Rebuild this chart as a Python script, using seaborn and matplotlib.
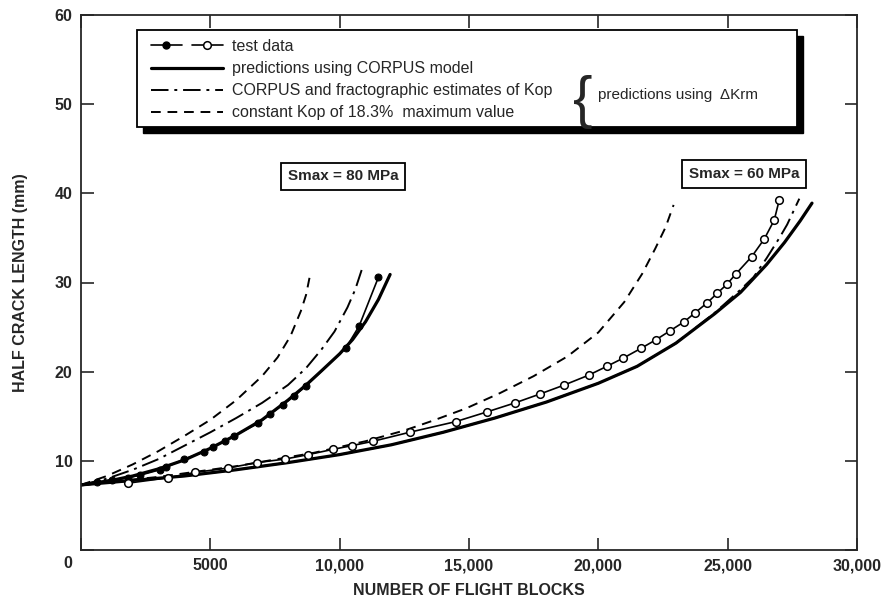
import numpy as np
import pandas as pd
import matplotlib
matplotlib.use("Agg")
import matplotlib.pyplot as plt
import seaborn as sns
from matplotlib.lines import Line2D
from matplotlib.patches import Rectangle
from matplotlib.legend_handler import HandlerTuple

# ---- data (flight blocks, half crack length in mm) ----
# Smax = 80 MPa
test80_x = [600, 1200, 1800, 2300, 3050, 3300, 4000, 4750, 5100, 5550, 5900,
            6850, 7300, 7800, 8250, 8700, 10250, 10750, 11500]
test80_y = [7.6, 7.9, 8.1, 8.4, 9.0, 9.3, 10.2, 11.0, 11.6, 12.2, 12.8,
            14.2, 15.2, 16.3, 17.3, 18.4, 22.7, 25.1, 30.6]

corpus80_x = [0, 1000, 2000, 3000, 4000, 5000, 6000, 7000, 8000, 8700, 9300,
              10000, 10500, 11000, 11500, 11950]
corpus80_y = [7.3, 7.7, 8.3, 9.1, 10.1, 11.4, 12.9, 14.6, 16.8, 18.5, 20.1,
              22.0, 23.6, 25.6, 28.1, 30.9]

fracto80_x = [0, 1000, 2000, 3000, 4000, 5000, 6000, 7000, 8000, 8700, 9300,
              9800, 10300, 10600, 10850]
fracto80_y = [7.3, 8.0, 9.0, 10.2, 11.7, 13.2, 14.8, 16.5, 18.5, 20.4, 22.5,
              24.5, 27.2, 29.2, 31.4]

const80_x = [0, 1000, 2000, 3000, 4000, 5000, 6000, 7000, 7600, 8100, 8500,
             8700, 8880]
const80_y = [7.3, 8.3, 9.6, 11.1, 12.8, 14.6, 16.8, 19.5, 21.6, 24.0, 26.8,
             28.6, 31.2]

# Smax = 60 MPa
test60_x = [1830, 3380, 4410, 5700, 6800, 7890, 8790, 9760, 10470, 11300,
            12700, 14490, 15710, 16780, 17750, 18680, 19620, 20330, 20950,
            21640, 22240, 22780, 23320, 23740, 24200, 24600, 24970, 25330,
            25930, 26420, 26800, 26990]
test60_y = [7.5, 8.1, 8.7, 9.2, 9.8, 10.2, 10.7, 11.3, 11.7, 12.2,
            13.2, 14.4, 15.5, 16.5, 17.5, 18.5, 19.6, 20.6, 21.5,
            22.6, 23.6, 24.6, 25.6, 26.6, 27.7, 28.8, 29.8, 31.0,
            32.9, 34.9, 37.0, 39.2]

corpus60_x = [0, 2000, 4000, 6000, 8000, 10000, 12000, 14000, 16000, 18000,
              20000, 21500, 23000, 24500, 25500, 26500, 27200, 27800, 28260]
corpus60_y = [7.3, 7.8, 8.3, 9.0, 9.8, 10.7, 11.8, 13.2, 14.8, 16.6,
              18.7, 20.6, 23.2, 26.5, 28.9, 32.0, 34.5, 36.9, 38.9]

fracto60_x = [0, 2000, 4000, 6000, 8000, 10000, 12000, 14000, 16000, 18000,
              20000, 21500, 23000, 24500, 25500, 26000, 26500, 27000, 27300,
              27770]
fracto60_y = [7.3, 7.8, 8.3, 9.0, 9.8, 10.7, 11.8, 13.2, 14.8, 16.6,
              18.7, 20.6, 23.2, 26.6, 29.2, 30.6, 32.7, 35.0, 36.5, 39.4]

const60_x = [0, 3000, 6000, 9000, 11000, 12500, 13600, 14900, 16200, 17500,
             18800, 20000, 21000, 21700, 22200, 22600, 22910]
const60_y = [7.3, 8.2, 9.4, 10.9, 12.2, 13.4, 14.5, 15.9, 17.6, 19.5,
             21.7, 24.4, 27.8, 31.0, 33.8, 36.2, 38.7]

x_ticks = [0, 5000, 10000, 15000, 20000, 25000, 30000]
x_ticklabels = ["", "5000", "10,000", "15,000", "20,000", "25,000", "30,000"]
y_ticks = [0, 10, 20, 30, 40, 50, 60]
y_ticklabels = ["", "10", "20", "30", "40", "50", "60"]

legend_labels = ["test data",
                 "predictions using CORPUS model",
                 "CORPUS and fractographic estimates of Kop",
                 "constant Kop of 18.3%  maximum value"]

sns.set_style("ticks")
plt.rcParams["font.family"] = ["Liberation Sans", "DejaVu Sans"]

DASHDOT = (0, (9, 3, 1.5, 3))
DASHED = (0, (5, 3.5))

fig = plt.figure(figsize=(8.85, 5.97), dpi=100)
ax = fig.add_axes([81 / 885, 47 / 597, 776 / 885, 535 / 597])

# predictions
for xs, ys in [(corpus80_x, corpus80_y), (corpus60_x, corpus60_y)]:
    sns.lineplot(x=xs, y=ys, ax=ax, color="black", lw=2.3, sort=False)
for xs, ys in [(fracto80_x, fracto80_y), (fracto60_x, fracto60_y)]:
    sns.lineplot(x=xs, y=ys, ax=ax, color="black", lw=1.4, sort=False,
                 linestyle=DASHDOT)
for xs, ys in [(const80_x, const80_y), (const60_x, const60_y)]:
    sns.lineplot(x=xs, y=ys, ax=ax, color="black", lw=1.4, sort=False,
                 linestyle=DASHED)

# test data
sns.lineplot(x=test80_x, y=test80_y, ax=ax, color="black", lw=1.2, sort=False,
             marker="o", markersize=5, markerfacecolor="black",
             markeredgecolor="black")
sns.lineplot(x=test60_x, y=test60_y, ax=ax, color="black", lw=1.2, sort=False,
             marker="o", markersize=5.5, markerfacecolor="white",
             markeredgecolor="black", markeredgewidth=1.1)

ax.set_xlim(0, 30000)
ax.set_ylim(0, 60)
ax.set_xticks(x_ticks)
ax.set_xticklabels(x_ticklabels)
ax.set_yticks(y_ticks)
ax.set_yticklabels(y_ticklabels)
ax.tick_params(direction="in", length=9, width=1.2, top=True, right=True,
               labelsize=11.5, pad=6)
for lab in ax.get_xticklabels() + ax.get_yticklabels():
    lab.set_fontweight("bold")
for sp in ax.spines.values():
    sp.set_linewidth(1.3)
    sp.set_visible(True)

ax.annotate("0", xy=(0, 0), xycoords="axes fraction", xytext=(-13, -13),
            textcoords="offset pixels", ha="center", va="center",
            fontsize=11.5, fontweight="bold")

ax.set_xlabel("NUMBER OF FLIGHT BLOCKS", fontsize=11.5, fontweight="bold",
              labelpad=7)
ax.set_ylabel("HALF CRACK LENGTH (mm)", fontsize=11.5, fontweight="bold",
              labelpad=19)

# stress labels
box = dict(boxstyle="square,pad=0.45", fc="white", ec="black", lw=1.3)
ax.text(10130, 41.9, "Smax = 80 MPa", fontsize=11, fontweight="bold",
        ha="center", va="center", bbox=box)
ax.text(25640, 42.2, "Smax = 60 MPa", fontsize=11, fontweight="bold",
        ha="center", va="center", bbox=box)

# legend frame with a drop shadow
bx0, by0, bw, bh = 0.0722, 0.791, 0.8505, 0.181
ax.add_patch(Rectangle((bx0 + 0.0077, by0 - 0.011), bw, bh,
                       transform=ax.transAxes, fc="black", ec="black",
                       zorder=5))
ax.add_patch(Rectangle((bx0, by0), bw, bh, transform=ax.transAxes,
                       fc="white", ec="black", lw=1.3, zorder=6))

h_fill = Line2D([], [], color="black", lw=1.2, marker="o", markersize=5,
                markerfacecolor="black")
h_open = Line2D([], [], color="black", lw=1.2, marker="o", markersize=5.5,
                markerfacecolor="white", markeredgewidth=1.1)
h_corpus = Line2D([], [], color="black", lw=2.3)
h_fracto = Line2D([], [], color="black", lw=1.4, linestyle=DASHDOT)
h_const = Line2D([], [], color="black", lw=1.4, linestyle=DASHED)

leg = ax.legend([(h_fill, h_open), h_corpus, h_fracto, h_const], legend_labels,
                handler_map={tuple: HandlerTuple(ndivide=None, pad=0.6)},
                loc="upper left", bbox_to_anchor=(0.09, 0.955),
                frameon=False, borderpad=0, borderaxespad=0,
                handlelength=4.5, handletextpad=0.6, labelspacing=0.44,
                prop={"size": 11.5})
leg.set_zorder(7)

ax.text(0.647, 0.838, "{", transform=ax.transAxes, fontsize=42,
        ha="center", va="center", zorder=8)
ax.text(0.666, 0.851, "predictions using  \u0394Krm", transform=ax.transAxes,
        fontsize=11, ha="left", va="center", zorder=8)

fig.savefig("out.png", dpi=100)
